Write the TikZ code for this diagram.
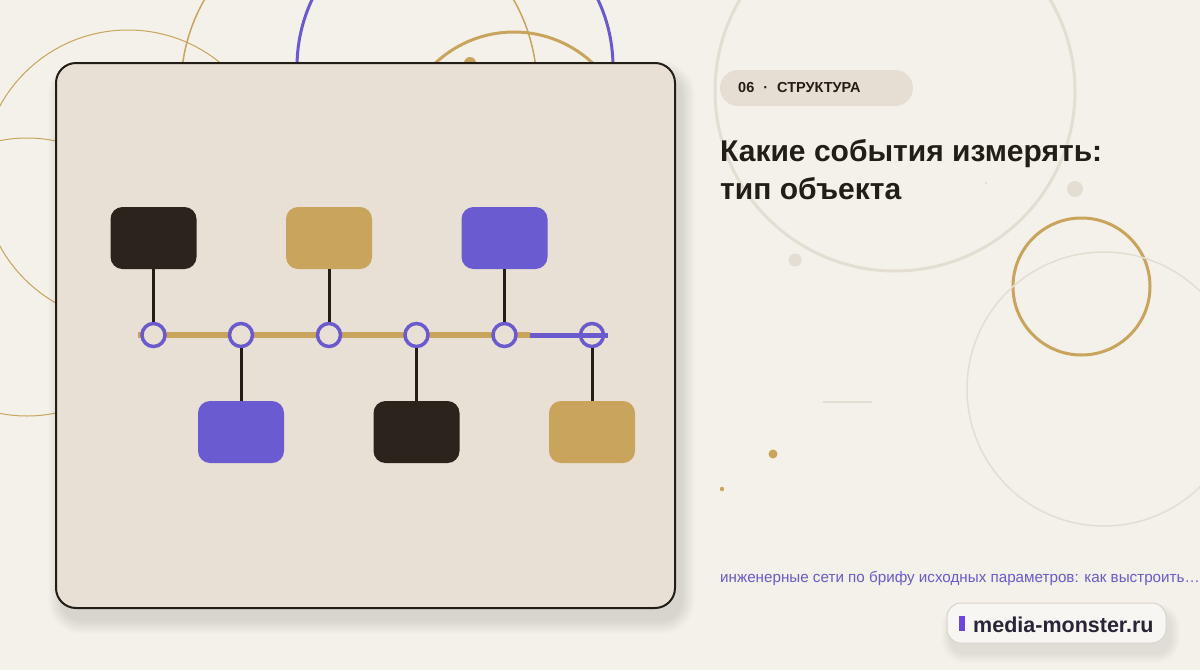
\documentclass[tikz,border=0pt]{standalone}
\usepackage{fontspec}
\setmainfont{Liberation Sans}
\definecolor{bg}{HTML}{F4F1EA}
\definecolor{cardfill}{HTML}{E8E0D4}
\definecolor{ink}{HTML}{221D16}
\definecolor{darkbox}{HTML}{2A241C}
\definecolor{gold}{HTML}{C8A45C}
\definecolor{purp}{HTML}{6A5ACD}
\definecolor{purpbox}{HTML}{6B5BD0}
\definecolor{lightc}{HTML}{E4DED2}
\definecolor{pillc}{HTML}{E6DED2}
\definecolor{subc}{HTML}{6A5ACD}
\definecolor{badgefill}{HTML}{F8F6F2}
\definecolor{badgeline}{HTML}{D9D4CB}
\definecolor{barc}{HTML}{6C45DC}
\definecolor{badgetext}{HTML}{2B2438}
\begin{document}
\begin{tikzpicture}[x=1pt,y=-1pt,
  evbox/.style={rectangle, rounded corners=12pt, minimum width=86pt, minimum height=62pt, inner sep=0pt},
  tnode/.style={circle, draw=purp, line width=3.5pt, fill=cardfill, minimum size=23pt, inner sep=0pt},
  link/.style={draw=ink, line width=3pt},
  txt/.style={inner sep=0pt, anchor=base west}]
\useasboundingbox (0,0) rectangle (1200,670);
\fill[bg] (0,0) rectangle (1200,670);
\begin{scope}
\clip (0,0) rectangle (1200,670);
% decorative circles, left/top
\draw[gold, line width=1pt] (128,176) circle[radius=146pt];
\draw[gold, line width=1pt] (27,277) circle[radius=139pt];
\draw[gold, line width=1.5pt] (359,88) circle[radius=178pt];
\draw[purp, line width=3pt] (455,67) circle[radius=158pt];
\draw[gold, line width=3pt] (514,147) circle[radius=115pt];
\fill[gold] (470,63) circle[radius=6pt];
% decorative circles, right
\draw[lightc, line width=3pt] (895,91) circle[radius=180pt];
\draw[gold, line width=3pt] (1081.5,286.5) circle[radius=68.5pt];
\draw[lightc, line width=1.5pt] (1104,389) circle[radius=137pt];
\fill[lightc] (1075,189) circle[radius=8pt];
\fill[lightc] (795,260) circle[radius=6.5pt];
\fill[lightc] (986,183) circle[radius=1.5pt];
\fill[gold] (773,454) circle[radius=4.5pt];
\fill[gold] (722,489) circle[radius=2.2pt];
\draw[lightc, line width=2pt] (823,402) -- (872,402);
\end{scope}
% card shadow
\foreach \i in {1,...,14}{
  \fill[black, opacity=0.009, rounded corners={(20+\i)*1pt}] ({56+6-\i},{63+12-\i}) rectangle ({675+6+\i},{608+12+\i});
}
% card
\draw[draw=ink, line width=2pt, fill=cardfill, rounded corners=20pt] (56,63) rectangle (675,608);
% event boxes
\node[evbox, fill=darkbox] (b1) at (153.5,238) {};
\node[evbox, fill=gold] (b2) at (329,238) {};
\node[evbox, fill=purpbox] (b3) at (504.5,238) {};
\node[evbox, fill=purpbox] (b4) at (241,432) {};
\node[evbox, fill=darkbox] (b5) at (416.5,432) {};
\node[evbox, fill=gold] (b6) at (592,432) {};
% timeline
\coordinate (ls) at (138,335);
\coordinate (lm) at (530,335);
\coordinate (le) at (608,335);
\draw[gold, line width=6pt] (ls) -- (lm);
\node[tnode] (c1) at (153.5,335) {};
\node[tnode] (c2) at (241,335) {};
\node[tnode] (c3) at (329,335) {};
\node[tnode] (c4) at (416.5,335) {};
\node[tnode] (c5) at (504.5,335) {};
\node[tnode] (c6) at (592,335) {};
\draw[link] (b1.south) -- (c1.north);
\draw[link] (b2.south) -- (c3.north);
\draw[link] (b3.south) -- (c5.north);
\draw[link] (c2.south) -- (b4.north);
\draw[link] (c4.south) -- (b5.north);
\draw[link] (c6.south) -- (b6.north);
\draw[purp, line width=5pt] (lm) -- (le);
% tag pill
\fill[pillc, rounded corners=18pt] (720,70) rectangle (913,106);
\node[txt, text=ink, font=\fontsize{14.5pt}{16pt}\selectfont\bfseries] (tag) at (738,92) {06\hspace{9pt}·\hspace{9pt}СТРУКТУРА};
% title
\node[txt, text=ink, font=\fontsize{30pt}{36pt}\selectfont\bfseries] (t1) at (720,161) {Какие события измерять:};
\node[txt, text=ink, font=\fontsize{30pt}{36pt}\selectfont\bfseries] (t2) at (720,199) {тип объекта};
% subtitle
\node[txt, text=subc, font=\fontsize{15.2pt}{18pt}\selectfont] (sub) at (720,582) {инженерные сети по брифу исходных параметров: как выстроить…};
% badge
\foreach \i in {1,...,10}{
  \fill[black, opacity=0.008, rounded corners={(14+\i)*1pt}] ({947+4-\i},{603+10-\i}) rectangle ({1166+4+\i},{643+10+\i});
}
\draw[badgeline, line width=1pt, fill=badgefill, rounded corners=14pt] (947,603) rectangle (1166,643);
\fill[barc] (959,616) rectangle (965,631);
\node[txt, text=badgetext, font=\fontsize{21.5pt}{24pt}\selectfont\bfseries] (site) at (973,632) {media-monster.ru};
\end{tikzpicture}
\end{document}
